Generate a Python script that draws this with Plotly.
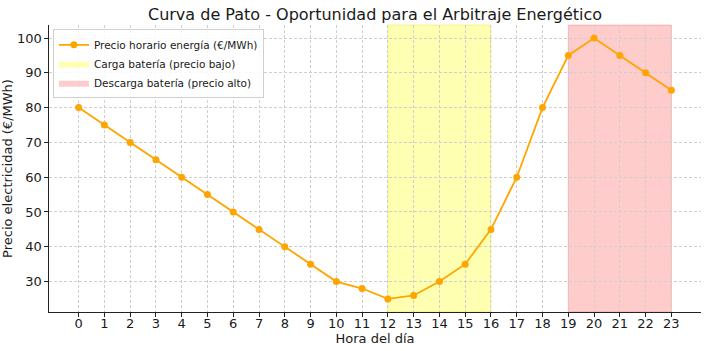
import plotly.graph_objects as go

hours = list(range(24))
prices = [80, 75, 70, 65, 60, 55, 50, 45, 40, 35, 30, 28, 25, 26, 30, 35, 45, 60, 80, 95, 100, 95, 90, 85]
charge_span = [12, 16]
discharge_span = [19, 23]
y_ticks = [30, 40, 50, 60, 70, 80, 90, 100]

font = "DejaVu Sans"
fig = go.Figure()

fig.add_trace(go.Scatter(
    x=hours, y=prices, mode="lines+markers",
    name="Precio horario energía (€/MWh)",
    line=dict(color="#FFA500", width=1.8),
    marker=dict(color="#FFA500", size=7),
))
fig.add_trace(go.Scatter(
    x=[None], y=[None], mode="lines", fill="toself",
    name="Carga batería (precio bajo)",
    fillcolor="rgba(255,255,0,0.3)", line=dict(color="rgba(255,255,0,0.3)", width=0),
))
fig.add_trace(go.Scatter(
    x=[None], y=[None], mode="lines", fill="toself",
    name="Descarga batería (precio alto)",
    fillcolor="rgba(255,0,0,0.2)", line=dict(color="rgba(255,0,0,0.2)", width=0),
))

fig.add_shape(type="rect", xref="x", yref="paper", x0=charge_span[0], x1=charge_span[1],
              y0=0, y1=1, fillcolor="rgba(255,255,0,0.3)", line=dict(color="rgba(220,220,0,0.35)", width=1),
              layer="below")
fig.add_shape(type="rect", xref="x", yref="paper", x0=discharge_span[0], x1=discharge_span[1],
              y0=0, y1=1, fillcolor="rgba(255,0,0,0.2)", line=dict(color="rgba(220,0,0,0.2)", width=1),
              layer="below")

pmin, pmax = min(prices), max(prices)
pad = (pmax - pmin) * 0.05
xpad = 23 * 0.05

fig.update_layout(
    width=708, height=351,
    margin=dict(l=49, r=7, t=25, b=39),
    paper_bgcolor="white", plot_bgcolor="rgba(0,0,0,0)",
    font=dict(family=font, size=13, color="#1a1a1a"),
    title=dict(text="Curva de Pato - Oportunidad para el Arbitraje Energético",
               x=(49 + 701) / 2 / 708, xanchor="center", y=0.958, yanchor="middle",
               font=dict(size=16, family=font, color="#1a1a1a")),
    showlegend=True,
    legend=dict(x=0.006, y=0.985, xanchor="left", yanchor="top",
                bgcolor="rgba(255,255,255,0.85)", bordercolor="#d0d0d0", borderwidth=1,
                font=dict(size=10.5, family=font), tracegroupgap=0, itemwidth=30),
    xaxis=dict(range=[-xpad, 23 + xpad], tickmode="array", tickvals=hours,
               ticktext=[str(h) for h in hours], automargin=False,
               showgrid=True, gridcolor="#cfcfcf", griddash="3px,2px", gridwidth=0.8,
               showline=True, linecolor="#222", linewidth=1.2, mirror=False,
               ticks="outside", ticklen=3.5, tickcolor="#222", ticklabelstandoff=-4,
               zeroline=False, tickfont=dict(size=13),
               title=dict(text="Hora del día", font=dict(size=13), standoff=1)),
    yaxis=dict(range=[pmin - pad, pmax + pad], tickmode="array", tickvals=y_ticks,
               showgrid=True, gridcolor="#cfcfcf", griddash="3px,2px", gridwidth=0.8,
               showline=True, linecolor="#222", linewidth=1.2, automargin=False,
               ticks="outside", ticklen=3.5, tickcolor="#222",
               zeroline=False, tickfont=dict(size=13),
               title=dict(text="Precio electricidad (€/MWh)", font=dict(size=13), standoff=2)),
)

fig.write_html("out.html")
